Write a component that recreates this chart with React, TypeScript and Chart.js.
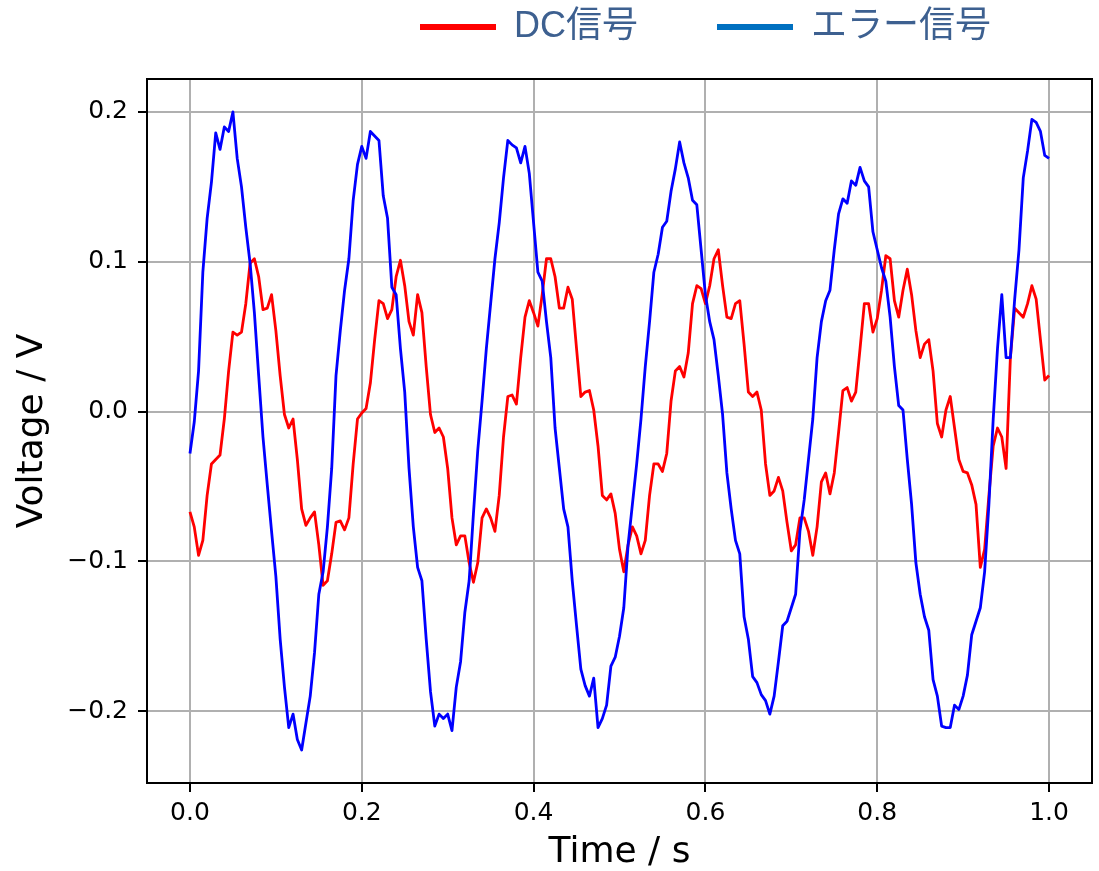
import { useEffect, useRef } from 'react';
import { Chart, registerables } from 'chart.js';

Chart.register(...registerables);

// ---- data -------------------------------------------------------------
const timeS = [
  0, 0.005, 0.01, 0.015, 0.02, 0.025, 0.03, 0.035, 0.04, 0.045,
  0.05, 0.055, 0.06, 0.065, 0.07, 0.075, 0.08, 0.085, 0.09, 0.095,
  0.1, 0.105, 0.11, 0.115, 0.12, 0.125, 0.13, 0.135, 0.14, 0.145,
  0.15, 0.155, 0.16, 0.165, 0.17, 0.175, 0.18, 0.185, 0.19, 0.195,
  0.2, 0.205, 0.21, 0.215, 0.22, 0.225, 0.23, 0.235, 0.24, 0.245,
  0.25, 0.255, 0.26, 0.265, 0.27, 0.275, 0.28, 0.285, 0.29, 0.295,
  0.3, 0.305, 0.31, 0.315, 0.32, 0.325, 0.33, 0.335, 0.34, 0.345,
  0.35, 0.355, 0.36, 0.365, 0.37, 0.375, 0.38, 0.385, 0.39, 0.395,
  0.4, 0.405, 0.41, 0.415, 0.42, 0.425, 0.43, 0.435, 0.44, 0.445,
  0.45, 0.455, 0.46, 0.465, 0.47, 0.475, 0.48, 0.485, 0.49, 0.495,
  0.5, 0.505, 0.51, 0.515, 0.52, 0.525, 0.53, 0.535, 0.54, 0.545,
  0.55, 0.555, 0.56, 0.565, 0.57, 0.575, 0.58, 0.585, 0.59, 0.595,
  0.6, 0.605, 0.61, 0.615, 0.62, 0.625, 0.63, 0.635, 0.64, 0.645,
  0.65, 0.655, 0.66, 0.665, 0.67, 0.675, 0.68, 0.685, 0.69, 0.695,
  0.7, 0.705, 0.71, 0.715, 0.72, 0.725, 0.73, 0.735, 0.74, 0.745,
  0.75, 0.755, 0.76, 0.765, 0.77, 0.775, 0.78, 0.785, 0.79, 0.795,
  0.8, 0.805, 0.81, 0.815, 0.82, 0.825, 0.83, 0.835, 0.84, 0.845,
  0.85, 0.855, 0.86, 0.865, 0.87, 0.875, 0.88, 0.885, 0.89, 0.895,
  0.9, 0.905, 0.91, 0.915, 0.92, 0.925, 0.93, 0.935, 0.94, 0.945,
  0.95, 0.955, 0.96, 0.965, 0.97, 0.975, 0.98, 0.985, 0.99, 0.995,
  1.0,
];

const dcSignal = [
  -0.067, -0.077, -0.096, -0.086, -0.056, -0.035, -0.032, -0.029, -0.005, 0.027,
  0.053, 0.051, 0.053, 0.072, 0.099, 0.102, 0.090, 0.068, 0.069, 0.078,
  0.054, 0.024, -0.002, -0.011, -0.005, -0.032, -0.065, -0.076, -0.071, -0.067,
  -0.089, -0.116, -0.113, -0.095, -0.074, -0.073, -0.079, -0.071, -0.035, -0.005,
  -0.001, 0.002, 0.019, 0.048, 0.074, 0.072, 0.062, 0.068, 0.090, 0.101,
  0.084, 0.060, 0.051, 0.078, 0.066, 0.030, -0.002, -0.014, -0.011, -0.017,
  -0.038, -0.071, -0.089, -0.083, -0.083, -0.101, -0.114, -0.101, -0.071, -0.065,
  -0.071, -0.080, -0.056, -0.017, 0.010, 0.011, 0.005, 0.036, 0.063, 0.074,
  0.066, 0.057, 0.078, 0.102, 0.102, 0.090, 0.069, 0.069, 0.083, 0.075,
  0.042, 0.010, 0.013, 0.014, 0.001, -0.023, -0.056, -0.059, -0.055, -0.068,
  -0.092, -0.107, -0.089, -0.077, -0.083, -0.095, -0.086, -0.056, -0.035, -0.035,
  -0.040, -0.028, 0.007, 0.027, 0.030, 0.023, 0.039, 0.072, 0.084, 0.082,
  0.072, 0.084, 0.102, 0.108, 0.084, 0.063, 0.062, 0.072, 0.074, 0.045,
  0.013, 0.010, 0.013, 0.001, -0.035, -0.056, -0.053, -0.044, -0.053, -0.074,
  -0.093, -0.089, -0.071, -0.071, -0.080, -0.096, -0.077, -0.047, -0.041, -0.055,
  -0.041, -0.014, 0.014, 0.016, 0.007, 0.013, 0.042, 0.072, 0.072, 0.053,
  0.062, 0.081, 0.104, 0.102, 0.074, 0.063, 0.081, 0.095, 0.078, 0.054,
  0.036, 0.045, 0.048, 0.027, -0.008, -0.017, 0.001, 0.010, -0.011, -0.032,
  -0.040, -0.041, -0.049, -0.062, -0.104, -0.092, -0.056, -0.023, -0.011, -0.017,
  -0.038, 0.036, 0.069, 0.066, 0.063, 0.072, 0.084, 0.075, 0.048, 0.021,
  0.024,
];

const errorSignal = [
  -0.028, -0.007, 0.027, 0.093, 0.129, 0.153, 0.186, 0.175, 0.190, 0.187,
  0.200, 0.169, 0.150, 0.123, 0.099, 0.066, 0.024, -0.017, -0.049, -0.080,
  -0.110, -0.152, -0.184, -0.211, -0.202, -0.219, -0.226, -0.208, -0.190, -0.161,
  -0.122, -0.107, -0.077, -0.038, 0.024, 0.054, 0.081, 0.102, 0.141, 0.165,
  0.177, 0.169, 0.187, 0.184, 0.181, 0.144, 0.129, 0.083, 0.078, 0.042,
  0.013, -0.038, -0.077, -0.104, -0.113, -0.152, -0.187, -0.210, -0.202, -0.205,
  -0.202, -0.213, -0.184, -0.167, -0.134, -0.113, -0.068, -0.026, 0.007, 0.042,
  0.072, 0.102, 0.126, 0.156, 0.181, 0.178, 0.176, 0.166, 0.177, 0.159,
  0.126, 0.093, 0.087, 0.060, 0.036, -0.011, -0.038, -0.065, -0.077, -0.113,
  -0.143, -0.172, -0.183, -0.190, -0.178, -0.211, -0.205, -0.196, -0.170, -0.164,
  -0.150, -0.131, -0.089, -0.062, -0.035, -0.005, 0.030, 0.060, 0.093, 0.105,
  0.123, 0.127, 0.147, 0.162, 0.180, 0.166, 0.156, 0.141, 0.138, 0.108,
  0.078, 0.060, 0.048, 0.024, -0.002, -0.041, -0.065, -0.086, -0.095, -0.137,
  -0.152, -0.177, -0.181, -0.189, -0.193, -0.202, -0.190, -0.167, -0.143, -0.140,
  -0.131, -0.122, -0.080, -0.059, -0.032, -0.005, 0.036, 0.060, 0.074, 0.081,
  0.108, 0.132, 0.142, 0.139, 0.154, 0.151, 0.163, 0.154, 0.150, 0.120,
  0.108, 0.096, 0.087, 0.063, 0.030, 0.004, 0.001, -0.032, -0.062, -0.101,
  -0.122, -0.137, -0.146, -0.179, -0.190, -0.210, -0.211, -0.211, -0.196, -0.199,
  -0.190, -0.176, -0.149, -0.140, -0.131, -0.107, -0.062, -0.005, 0.042, 0.078,
  0.036, 0.036, 0.075, 0.108, 0.156, 0.174, 0.195, 0.193, 0.187, 0.171,
  0.169,
];

const seriesNames = ['DC信号', 'エラー信号'];
const lineColors = ['#ff0000', '#0000ff'];
const legendColors = ['#ff0000', '#0070c0'];
const xTickValues = [0, 0.2, 0.4, 0.6, 0.8, 1.0];
const yTickValues = [-0.2, -0.1, 0, 0.1, 0.2];
const xAxisTitle = 'Time / s';
const yAxisTitle = 'Voltage / V';

// ---- helpers ----------------------------------------------------------
const fmtTick = (v: number | string) => Number(v).toFixed(1).replace('-', '\u2212');

const framePlugin = {
  id: 'frameBox',
  afterDatasetsDraw(chart: any) {
    const { ctx, chartArea: a } = chart;
    ctx.save();
    ctx.strokeStyle = '#000';
    ctx.lineWidth = 2;
    ctx.strokeRect(a.left, a.top, a.right - a.left, a.bottom - a.top);
    ctx.restore();
  },
};

const legendPlacePlugin = {
  id: 'legendPlace',
  afterLayout(chart: any) {
    const lg = chart.legend;
    if (!lg) return;
    lg.left = 341;
    lg.right = 1099;
    lg.top = -70;
    lg.bottom = 60;
  },
};

const tickFont = { family: "'DejaVu Sans', sans-serif", size: 25 };
const titleFont = { family: "'DejaVu Sans', sans-serif", size: 36 };

export default function App() {
  const ref = useRef<HTMLCanvasElement | null>(null);

  useEffect(() => {
    if (!ref.current) return;
    const chart = new Chart(ref.current, {
      type: 'line',
      data: {
        datasets: [
          {
            label: seriesNames[0],
            data: timeS.map((t, i) => ({ x: t, y: dcSignal[i] })),
            borderColor: lineColors[0],
            backgroundColor: lineColors[0],
            borderWidth: 2.8,
            pointRadius: 0,
            borderJoinStyle: 'round',
            tension: 0,
            order: 1,
          },
          {
            label: seriesNames[1],
            data: timeS.map((t, i) => ({ x: t, y: errorSignal[i] })),
            borderColor: lineColors[1],
            backgroundColor: lineColors[1],
            borderWidth: 2.8,
            pointRadius: 0,
            borderJoinStyle: 'round',
            tension: 0,
            order: 0,
          },
        ],
      },
      options: {
        responsive: false,
        animation: false,
        devicePixelRatio: 1,
        events: [],
        layout: { padding: { top: 29, right: 7, bottom: 0, left: 0 } },
        plugins: {
          tooltip: { enabled: false },
          title: { display: false },
          legend: {
            display: true,
            position: 'top',
            align: 'start',
            maxHeight: 50,
            labels: {
              boxWidth: 76,
              boxHeight: 6,
              padding: 79,
              color: '#3d6090',
              font: { family: "'Liberation Sans', 'Noto Sans CJK JP', sans-serif", size: 36 },
              generateLabels: (ch: any) => {
                const base = Chart.defaults.plugins.legend.labels.generateLabels(ch);
                return seriesNames.map((name, k) => {
                  const b = base.find((it: any) => it.datasetIndex === k) || {};
                  return {
                    ...b,
                    text: name,
                    fillStyle: legendColors[k],
                    strokeStyle: legendColors[k],
                    lineWidth: 0,
                    fontColor: '#3d6090',
                    datasetIndex: k,
                  };
                });
              },
            },
          },
        },
        scales: {
          x: {
            type: 'linear',
            min: -0.05,
            max: 1.05,
            afterBuildTicks: (s: any) => {
              s.ticks = xTickValues.map((v) => ({ value: v }));
            },
            afterFit: (s: any) => {
              s.height = 88;
            },
            ticks: {
              callback: (v: any) => fmtTick(v),
              font: tickFont,
              color: '#000',
              padding: 6,
              maxRotation: 0,
              autoSkip: false,
            },
            grid: {
              color: '#b0b0b0',
              lineWidth: 2,
              drawTicks: true,
              tickLength: 9,
              tickWidth: 2,
              tickColor: '#000',
            },
            border: { display: false },
            title: {
              display: true,
              text: xAxisTitle,
              color: '#000',
              font: { ...titleFont, lineHeight: 1.0 },
              padding: { top: 0, bottom: 0 },
            },
          },
          y: {
            type: 'linear',
            min: -0.248,
            max: 0.222,
            afterBuildTicks: (s: any) => {
              s.ticks = yTickValues.map((v) => ({ value: v }));
            },
            afterFit: (s: any) => {
              s.width = 147;
            },
            ticks: {
              callback: (v: any) => fmtTick(v),
              font: tickFont,
              color: '#000',
              padding: 10,
              autoSkip: false,
            },
            grid: {
              color: '#b0b0b0',
              lineWidth: 2,
              drawTicks: true,
              tickLength: 9,
              tickWidth: 2,
              tickColor: '#000',
            },
            border: { display: false },
            title: {
              display: true,
              text: yAxisTitle,
              color: '#000',
              font: titleFont,
              padding: { top: 11, bottom: 0 },
            },
          },
        },
      },
      plugins: [framePlugin, legendPlacePlugin],
    } as any);
    return () => chart.destroy();
  }, []);

  return (
    <div style={{ position: 'fixed', left: 0, top: 0, width: 1099, height: 871, background: '#fff' }}>
      <canvas ref={ref} width={1099} height={871} style={{ display: 'block' }} />
    </div>
  );
}
